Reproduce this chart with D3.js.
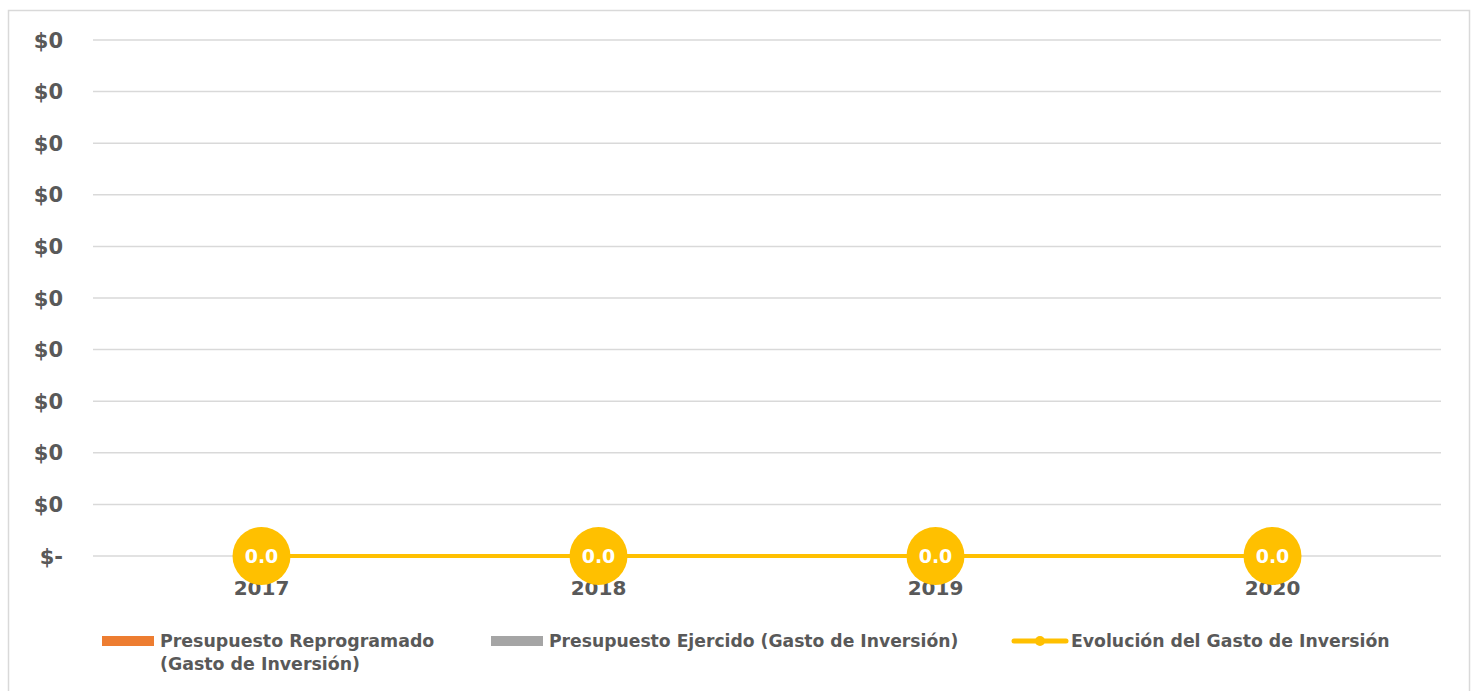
<!DOCTYPE html>
<meta charset="utf-8">
<script src="https://d3js.org/d3.v7.min.js"></script>
<style>
  body { margin: 0; background: #fff; }
  text { font-family: "DejaVu Sans", sans-serif; font-weight: 700; fill: #595959; }
</style>
<div id="my_dataviz"></div>
<script>
// data
var years = ["2017", "2018", "2019", "2020"];
var reprogramado = [0, 0, 0, 0];
var ejercido = [0, 0, 0, 0];
var evolucion = [0, 0, 0, 0];
var yTicks = [0, 0.01, 0.02, 0.03, 0.04, 0.05, 0.06, 0.07, 0.08, 0.09, 0.1];

var W = 1473, H = 691;
var margin = {top: 40, left: 93, right: 32, bottom: 135};
var width = W - margin.left - margin.right,
    height = H - margin.top - margin.bottom;

var svg = d3.select("#my_dataviz").append("svg")
    .attr("width", W).attr("height", H);

// outer frame
svg.append("rect")
    .attr("x", 8.5).attr("y", 10.5)
    .attr("width", 1461).attr("height", 700)
    .attr("fill", "none").attr("stroke", "#d9d9d9").attr("stroke-width", 1.5);

var g = svg.append("g")
    .attr("transform", "translate(" + margin.left + "," + margin.top + ")");

var x = d3.scaleBand().domain(years).range([0, width]);
var y = d3.scaleLinear().domain([0, 0.1]).range([height, 0]);

// gridlines
g.selectAll(".grid").data(yTicks).enter().append("line")
    .attr("x1", 0).attr("x2", width)
    .attr("y1", function (d) { return y(d); })
    .attr("y2", function (d) { return y(d); })
    .attr("stroke", "#d9d9d9").attr("stroke-width", 1.5);

// y tick labels
g.selectAll(".ytick").data(yTicks).enter().append("text")
    .attr("x", -30)
    .attr("y", function (d) { return y(d); })
    .attr("dy", "0.36em")
    .attr("text-anchor", "end")
    .style("font-size", "21px")
    .text(function (d) { return d === 0 ? "$-" : "$" + d3.format(".0f")(d); });

// bars (zero height)
g.selectAll(".barR").data(reprogramado).enter().append("rect")
    .attr("x", function (d, i) { return x(years[i]) + x.bandwidth() * 0.2; })
    .attr("width", x.bandwidth() * 0.28)
    .attr("y", function (d) { return y(d); })
    .attr("height", function (d) { return height - y(d); })
    .attr("fill", "#ED7D31");
g.selectAll(".barE").data(ejercido).enter().append("rect")
    .attr("x", function (d, i) { return x(years[i]) + x.bandwidth() * 0.52; })
    .attr("width", x.bandwidth() * 0.28)
    .attr("y", function (d) { return y(d); })
    .attr("height", function (d) { return height - y(d); })
    .attr("fill", "#A5A5A5");

// x labels
g.selectAll(".xlab").data(years).enter().append("text")
    .attr("x", function (d) { return x(d) + x.bandwidth() / 2; })
    .attr("y", height + 39)
    .attr("text-anchor", "middle")
    .style("font-size", "20px")
    .text(function (d) { return d; });

// line
var line = d3.line()
    .x(function (d, i) { return x(years[i]) + x.bandwidth() / 2; })
    .y(function (d) { return y(d); });
g.append("path").datum(evolucion)
    .attr("d", line)
    .attr("fill", "none").attr("stroke", "#FFC000").attr("stroke-width", 4);

g.selectAll(".dot").data(evolucion).enter().append("circle")
    .attr("cx", function (d, i) { return x(years[i]) + x.bandwidth() / 2; })
    .attr("cy", function (d) { return y(d); })
    .attr("r", 29)
    .attr("fill", "#FFC000");

g.selectAll(".dlab").data(evolucion).enter().append("text")
    .attr("x", function (d, i) { return x(years[i]) + x.bandwidth() / 2; })
    .attr("y", function (d) { return y(d); })
    .attr("dy", "0.36em")
    .attr("text-anchor", "middle")
    .style("font-size", "19px")
    .style("fill", "#fff")
    .text(function (d) { return d3.format(".1f")(d); });

// legend
var leg = svg.append("g");
leg.append("rect").attr("x", 102).attr("y", 636).attr("width", 52).attr("height", 10).attr("fill", "#ED7D31");
leg.append("text").attr("x", 160).attr("y", 647).style("font-size", "17.4px").text("Presupuesto Reprogramado");
leg.append("text").attr("x", 160).attr("y", 670).style("font-size", "17.4px").text("(Gasto de Inversión)");

leg.append("rect").attr("x", 491).attr("y", 636).attr("width", 52).attr("height", 10).attr("fill", "#A5A5A5");
leg.append("text").attr("x", 549).attr("y", 647).style("font-size", "17.2px").text("Presupuesto Ejercido (Gasto de Inversión)");

leg.append("line").attr("x1", 1014).attr("x2", 1066).attr("y1", 641).attr("y2", 641)
    .attr("stroke", "#FFC000").attr("stroke-width", 5).attr("stroke-linecap", "round");
leg.append("circle").attr("cx", 1040).attr("cy", 641).attr("r", 5).attr("fill", "#FFC000");
leg.append("text").attr("x", 1071).attr("y", 647).style("font-size", "17.3px").text("Evolución del Gasto de Inversión");
</script>
